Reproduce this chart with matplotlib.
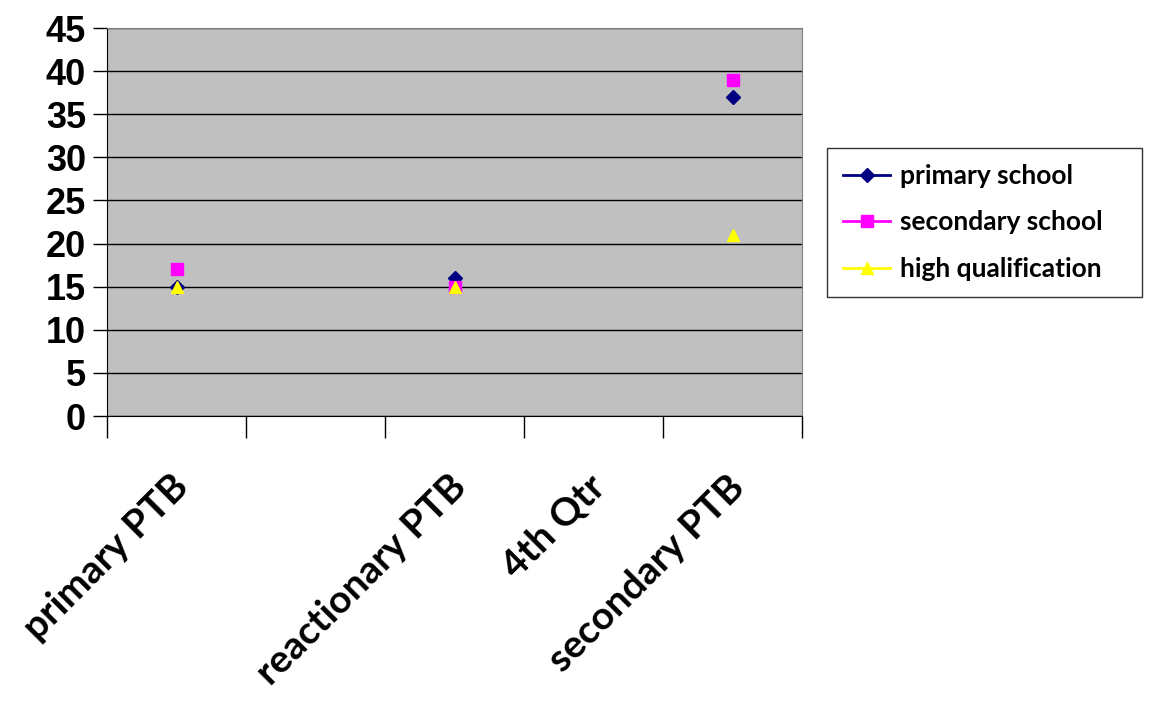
import numpy as np
import matplotlib.pyplot as plt
import matplotlib.transforms as mtransforms

categories = ["primary PTB", "", "reactionary PTB", "4th Qtr", "secondary PTB"]
primary_school = [15, np.nan, 16, np.nan, 37]
secondary_school = [17, np.nan, 15, np.nan, 39]
high_qualification = [15, np.nan, 15, np.nan, 21]

fig = plt.figure(figsize=(11.54, 7.01), dpi=100)
ax = fig.add_axes([107/1154, 1-416/701, (802-107)/1154, (416-28)/701])
ax.set_facecolor('#C0C0C0')

x = np.arange(len(categories))
ax.plot(x, primary_school, color='#000080', marker='D', markersize=7, lw=2, label='primary school')
ax.plot(x, secondary_school, color='#FF00FF', marker='s', markersize=9, lw=2, label='secondary school')
ax.plot(x, high_qualification, color='#FFFF00', marker='^', markersize=9, lw=2, label='high qualification')

ax.set_ylim(0, 45)
ax.set_yticks(np.arange(0, 46, 5))
ax.yaxis.grid(True, color='black', lw=1)
ax.set_axisbelow(True)
ax.set_xlim(-0.5, len(categories) - 0.5)
ax.set_xticks(x)
ax.set_xticks(np.arange(-0.5, len(categories), 1), minor=True)
ax.tick_params(axis='x', which='major', length=0, pad=38)
ax.tick_params(axis='x', which='minor', length=16, color='black', width=1)
ax.tick_params(axis='y', length=10, width=1, pad=5)
ax.set_xticklabels(categories, rotation=45, ha='right', rotation_mode='anchor',
                   fontsize=28, fontweight='bold', family='Lato')
shift = mtransforms.ScaledTranslation(-6/100, 0, fig.dpi_scale_trans)
for lbl in ax.get_xticklabels():
    lbl.set_transform(lbl.get_transform() + shift)
for lbl in ax.get_yticklabels():
    lbl.set_fontsize(26)
    lbl.set_fontweight('bold')
    lbl.set_family('Liberation Sans')

for s in ['top', 'right']:
    ax.spines[s].set_color('#808080')
for s in ['left', 'bottom']:
    ax.spines[s].set_color('black')

leg = ax.legend(loc='center left', bbox_to_anchor=(827/1154, 1-297/701, (1142-827)/1154, (297-148)/701),
                bbox_transform=fig.transFigure, mode='expand', frameon=True, fancybox=False,
                borderaxespad=0,
                prop={'family': 'Lato', 'weight': 'bold', 'size': 19}, handlelength=1.8,
                labelspacing=0.85, borderpad=0.6, handletextpad=0.35)
leg.get_frame().set_edgecolor('black')
leg.get_frame().set_linewidth(1)

fig.savefig('out.png', dpi=100)
